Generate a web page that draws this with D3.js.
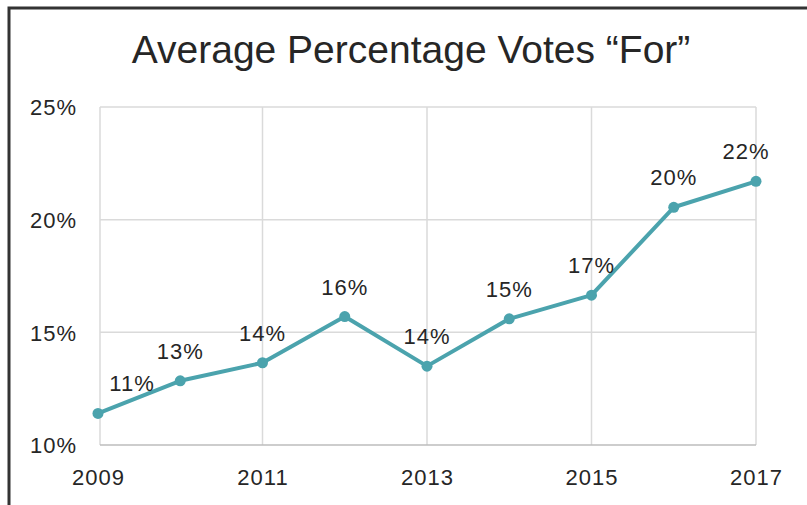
<!DOCTYPE html>
<html>
<head>
<meta charset="utf-8">
<script src="https://cdnjs.cloudflare.com/ajax/libs/d3/7.8.5/d3.min.js"></script>
<style>
    body { margin: 0; background: #fff; }
    svg text { font-family: "Liberation Sans", Arial, sans-serif; fill: #262626; }
</style>
</head>
<body>
<div id="chart"></div>
<script>
;(function () {

    // chart data
    var years = [2009, 2010, 2011, 2012, 2013, 2014, 2015, 2016, 2017];
    var votesFor = [11.4, 12.85, 13.65, 15.7, 13.5, 15.6, 16.65, 20.55, 21.7];
    var pointLabels = ['11%', '13%', '14%', '16%', '14%', '15%', '17%', '20%', '22%'];
    var yTicks = [10, 15, 20, 25];
    var xTicks = [2009, 2011, 2013, 2015, 2017];
    var title = 'Average Percentage Votes \u201cFor\u201d';

    var width = 807
        , height = 505
        , margin = { top: 107, right: 50, bottom: 60, left: 100 }
        , lineColor = '#4ba3ad';

    var svg = d3.select('#chart').append('svg')
        .attr('width', width)
        .attr('height', height);

    // outer frame, cut off on the right and bottom
    svg.append('path')
        .attr('d', 'M9,' + height + 'V8H' + width)
        .attr('fill', 'none')
        .attr('stroke', '#333')
        .attr('stroke-width', 3);

    svg.append('text')
        .attr('x', 411)
        .attr('y', 63)
        .attr('text-anchor', 'middle')
        .style('font-size', '39px')
        .text(title);

    var x = d3.scaleLinear()
        .domain([2009, 2017])
        .range([margin.left - 2, width - margin.right - 1]);

    var y = d3.scaleLinear()
        .domain([10, 25])
        .range([height - margin.bottom, margin.top]);

    var g = svg.append('g');

    // horizontal grid
    g.selectAll('.hgrid')
        .data(yTicks.slice(1))
        .enter().append('line')
        .attr('class', 'hgrid')
        .attr('x1', margin.left)
        .attr('x2', x(2017))
        .attr('y1', function(d) { return y(d); })
        .attr('y2', function(d) { return y(d); })
        .attr('stroke', '#dadada')
        .attr('stroke-width', 1.5);

    // vertical grid
    g.selectAll('.vgrid')
        .data(xTicks)
        .enter().append('line')
        .attr('class', 'vgrid')
        .attr('x1', function(d, i) { return i === 0 ? margin.left : x(d); })
        .attr('x2', function(d, i) { return i === 0 ? margin.left : x(d); })
        .attr('y1', y(25))
        .attr('y2', y(10))
        .attr('stroke', '#dadada')
        .attr('stroke-width', 1.5);

    // baseline
    g.append('line')
        .attr('x1', margin.left)
        .attr('x2', x(2017))
        .attr('y1', y(10))
        .attr('y2', y(10))
        .attr('stroke', '#bdbdbd')
        .attr('stroke-width', 1.5);

    var yAxis = d3.axisLeft(y)
        .tickValues(yTicks)
        .tickSize(0)
        .tickPadding(0)
        .tickFormat(function(d) { return d + '%'; });

    svg.append('g')
        .attr('transform', 'translate(77,0)')
        .call(yAxis)
        .call(function(sel) { sel.select('.domain').remove(); })
        .selectAll('text')
        .style('font-size', '22px')
        .style('letter-spacing', '1px')
        .attr('dy', '0.35em');

    var xAxis = d3.axisBottom(x)
        .tickValues(xTicks)
        .tickSize(0)
        .tickPadding(0)
        .tickFormat(d3.format('d'));

    svg.append('g')
        .attr('transform', 'translate(0,' + (y(10) + 32) + ')')
        .call(xAxis)
        .call(function(sel) { sel.select('.domain').remove(); })
        .selectAll('text')
        .style('font-size', '22px')
        .style('letter-spacing', '1px')
        .attr('dy', '0.35em');

    var line = d3.line()
        .x(function(d, i) { return x(years[i]); })
        .y(function(d) { return y(d); });

    g.append('path')
        .datum(votesFor)
        .attr('d', line)
        .attr('fill', 'none')
        .attr('stroke', lineColor)
        .attr('stroke-width', 4)
        .attr('stroke-linejoin', 'round');

    g.selectAll('.dot')
        .data(votesFor)
        .enter().append('circle')
        .attr('class', 'dot')
        .attr('cx', function(d, i) { return x(years[i]); })
        .attr('cy', function(d) { return y(d); })
        .attr('r', 5.5)
        .attr('fill', lineColor);

    // labels above the points, kept inside the plot area at the ends
    g.selectAll('.lbl')
        .data(votesFor)
        .enter().append('text')
        .attr('class', 'lbl')
        .attr('x', function(d, i) {
            var px = x(years[i]);
            return Math.min(Math.max(px, margin.left + 32), x(2017) - 10);
        })
        .attr('y', function(d) { return y(d) - 22; })
        .attr('text-anchor', 'middle')
        .style('font-size', '22px')
        .style('letter-spacing', '1px')
        .text(function(d, i) { return pointLabels[i]; });

}());
</script>
</body>
</html>
